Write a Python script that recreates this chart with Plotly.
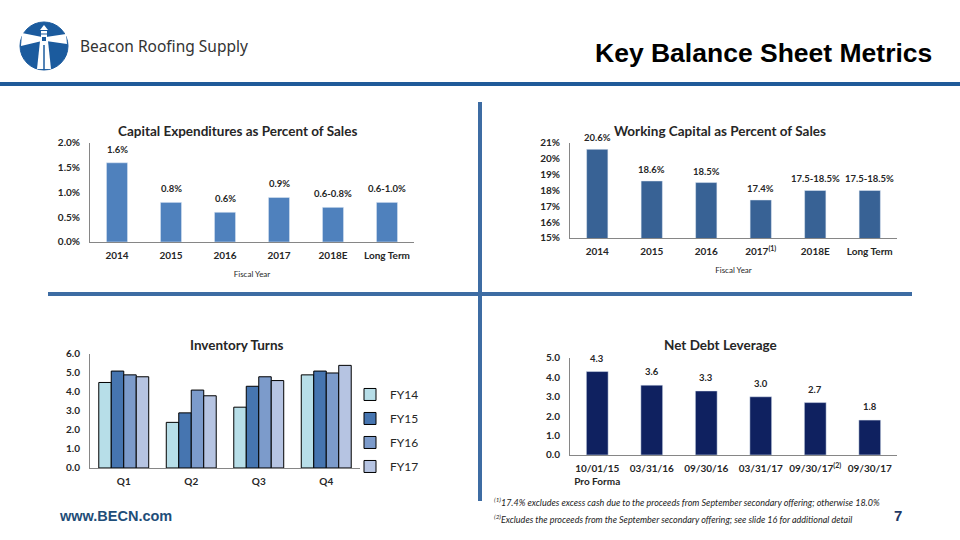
import plotly.graph_objects as go

W, H = 960, 540
# the capture squeezes the page slightly in height; positions below are the
# reference's pixel positions, mapped so they land there after capture
Y0, SY = 6.0, 0.976


def px(x):
    return x / W


def py(y):
    return 1 - ((y - Y0) / SY) / H


# ---------------- data ----------------
capex_cats = ["2014", "2015", "2016", "2017", "2018E", "Long Term"]
capex_vals = [1.6, 0.8, 0.6, 0.9, 0.7, 0.8]
capex_labels = ["1.6%", "0.8%", "0.6%", "0.9%", "0.6-0.8%", "0.6-1.0%"]

wc_cats = ["2014", "2015", "2016", "2017<sup>(1)</sup>", "2018E", "Long Term"]
wc_vals = [20.6, 18.6, 18.5, 17.4, 18.0, 18.0]
wc_labels = ["20.6%", "18.6%", "18.5%", "17.4%", "17.5-18.5%", "17.5-18.5%"]

inv_quarters = ["Q1", "Q2", "Q3", "Q4"]
inv_fy14 = [4.5, 2.4, 3.2, 4.9]
inv_fy15 = [5.1, 2.9, 4.3, 5.1]
inv_fy16 = [4.9, 4.1, 4.8, 5.0]
inv_fy17 = [4.8, 3.8, 4.6, 5.4]
inv_series = ["FY14", "FY15", "FY16", "FY17"]

lev_cats = ["10/01/15<br>Pro Forma", "03/31/16", "09/30/16", "03/31/17",
            "09/30/17<sup>(2)</sup>", "09/30/17"]
lev_vals = [4.3, 3.6, 3.3, 3.0, 2.7, 1.8]
lev_labels = ["4.3", "3.6", "3.3", "3.0", "2.7", "1.8"]

# ---------------- style ----------------
FONT = "Lato"
TXT = "#262626"
AXLINE = "#868686"
C_CAPEX = "#4F81BD"
C_WC = "#386295"
C_INV = ["#B7DEE8", "#4675B0", "#7C9BCB", "#B6C4E2"]
C_LEV = "#0F2160"
DIV = "#3D6CA3"

fig = go.Figure()

fig.add_trace(go.Bar(x=capex_cats, y=capex_vals, marker_color=C_CAPEX, width=0.39,
                     xaxis="x", yaxis="y", showlegend=False, hoverinfo="skip"))
fig.add_trace(go.Bar(x=wc_cats, y=wc_vals, marker_color=C_WC, width=0.39,
                     xaxis="x2", yaxis="y2", showlegend=False, hoverinfo="skip"))
for name, vals, col in zip(inv_series, [inv_fy14, inv_fy15, inv_fy16, inv_fy17], C_INV):
    fig.add_trace(go.Bar(x=inv_quarters, y=vals, name=name, marker_color=col,
                         marker_line=dict(color="#000000", width=1),
                         legendgroup=name,
                         xaxis="x3", yaxis="y3", hoverinfo="skip"))
fig.add_trace(go.Bar(x=lev_cats, y=lev_vals, marker_color=C_LEV, width=0.40,
                     xaxis="x4", yaxis="y4", showlegend=False, hoverinfo="skip"))

tickfont = dict(family=FONT, size=10, color=TXT, weight=700)


def xax(domain, anchor, cats):
    return dict(domain=domain, anchor=anchor, type="category",
                categoryorder="array", categoryarray=cats,
                range=[-0.5, len(cats) - 0.5], autorange=False,
                showgrid=False, showline=True, linecolor=AXLINE, linewidth=1,
                ticks="", tickfont=tickfont, fixedrange=True, zeroline=False,
                ticklabelstandoff=4)


def yax(domain, anchor, rng, dtick, fmt, suffix=""):
    return dict(domain=domain, anchor=anchor, range=rng, autorange=False,
                dtick=dtick, tickformat=fmt, ticksuffix=suffix, showgrid=False,
                showline=True, linecolor=AXLINE, linewidth=1, ticks="",
                tickfont=tickfont, fixedrange=True, zeroline=False,
                ticklabelstandoff=7)


axis_title_font = dict(family=FONT, size=8, color=TXT)

xa1 = xax([px(90), px(414)], "y", capex_cats)
xa1["title"] = dict(text="Fiscal Year", font=axis_title_font, standoff=11)
xa2 = xax([px(570), px(897)], "y2", wc_cats)
xa2["title"] = dict(text="Fiscal Year", font=axis_title_font, standoff=11)

fig.update_layout(
    width=W, height=H,
    margin=dict(l=0, r=0, t=0, b=0),
    paper_bgcolor="white", plot_bgcolor="white",
    font=dict(family=FONT, color=TXT),
    barmode="group",
    bargap=0.26, bargroupgap=0,
    xaxis=xa1,
    yaxis=yax([py(241), py(142)], "x", [0, 2], 0.5, ".1f", "%"),
    xaxis2=xa2,
    yaxis2=yax([py(237), py(142)], "x2", [15, 21], 1, "d", "%"),
    xaxis3=xax([px(90), px(360)], "y3", inv_quarters),
    yaxis3=yax([py(467), py(353)], "x3", [0, 6], 1, ".1f"),
    xaxis4=xax([px(570), px(897)], "y4", lev_cats),
    yaxis4=yax([py(454), py(357)], "x4", [0, 5], 1, ".1f"),
    legend=dict(x=px(350), y=py(379), xanchor="left", yanchor="top",
                font=dict(family=FONT, size=12, color=TXT),
                bgcolor="rgba(0,0,0,0)", traceorder="grouped",
                tracegroupgap=5),
    showlegend=True,
)

annotations = []
label_font = dict(family=FONT, size=9.5, color=TXT, weight=700)

# category axes: annotations placed by category index
for i, (v, t) in enumerate(zip(capex_vals, capex_labels)):
    annotations.append(dict(x=i, y=v, xref="x", yref="y", text=t, showarrow=False,
                            yanchor="bottom", yshift=6, font=label_font))
for i, (v, t) in enumerate(zip(wc_vals, wc_labels)):
    annotations.append(dict(x=i, y=v, xref="x2", yref="y2", text=t, showarrow=False,
                            yanchor="bottom", yshift=4, font=label_font))
for i, (v, t) in enumerate(zip(lev_vals, lev_labels)):
    annotations.append(dict(x=i, y=v, xref="x4", yref="y4", text=t, showarrow=False,
                            yanchor="bottom", yshift=6, font=label_font))

title_font = dict(family=FONT, size=13.5, color=TXT, weight=700)
for text, x, y in [("Capital Expenditures as Percent of Sales", 237, 130),
                   ("Working Capital as Percent of Sales", 720, 130),
                   ("Inventory Turns", 237, 344),
                   ("Net Debt Leverage", 720, 344)]:
    annotations.append(dict(x=px(x), y=py(y), xref="paper", yref="paper", text=text,
                            showarrow=False, xanchor="center", yanchor="middle",
                            font=title_font))

# header texts
annotations.append(dict(x=px(934), y=py(52), xref="paper", yref="paper",
                        text="Key Balance Sheet Metrics", showarrow=False,
                        xanchor="right", yanchor="middle",
                        font=dict(family="Liberation Sans", size=26.5, color="#000000", weight=700)))
annotations.append(dict(x=px(78), y=py(45), xref="paper", yref="paper",
                        text="Beacon Roofing Supply", showarrow=False,
                        xanchor="left", yanchor="middle",
                        font=dict(family="Noto Sans", size=15.5, color="#333333")))
annotations.append(dict(x=px(57), y=py(515), xref="paper", yref="paper",
                        text="www.BECN.com", showarrow=False,
                        xanchor="left", yanchor="middle",
                        font=dict(family="Liberation Sans", size=14.5, color="#1F4E79", weight=700)))
annotations.append(dict(x=px(898), y=py(515), xref="paper", yref="paper",
                        text="7", showarrow=False,
                        xanchor="center", yanchor="middle",
                        font=dict(family="Liberation Sans", size=15, color="#1F3864", weight=700)))
foot_font = dict(family=FONT, size=9, color="#222222")
annotations.append(dict(x=px(492), y=py(501), xref="paper", yref="paper",
                        text="<i><sup>(1)</sup>17.4% excludes excess cash due to the proceeds from September secondary offering; otherwise 18.0%</i>",
                        showarrow=False, xanchor="left", yanchor="middle", font=foot_font))
annotations.append(dict(x=px(492), y=py(518), xref="paper", yref="paper",
                        text="<i><sup>(2)</sup>Excludes the proceeds from the September secondary offering; see slide 16 for additional detail</i>",
                        showarrow=False, xanchor="left", yanchor="middle", font=foot_font))

fig.update_layout(annotations=annotations)

shapes = []
# header line
shapes.append(dict(type="line", xref="paper", yref="paper", x0=0, x1=1,
                   y0=py(83), y1=py(83), line=dict(color="#1F5A99", width=4)))
# dividers
shapes.append(dict(type="line", xref="paper", yref="paper", x0=px(480), x1=px(480),
                   y0=py(101), y1=py(500), line=dict(color=DIV, width=4)))
shapes.append(dict(type="line", xref="paper", yref="paper", x0=px(48), x1=px(912),
                   y0=py(293), y1=py(293), line=dict(color=DIV, width=4)))

# logo
LOGO = "#1B5B9E"
shapes.append(dict(type="circle", xref="paper", yref="paper",
                   x0=px(20), x1=px(68), y0=py(69), y1=py(21),
                   fillcolor=LOGO, line=dict(color=LOGO, width=1)))


def path(pts):
    return "M " + " L ".join(f"{px(x)},{py(y)}" for x, y in pts) + " Z"


white = dict(fillcolor="white", line=dict(width=0))
# beams
shapes.append(dict(type="path", xref="paper", yref="paper",
                   path=path([(42, 36), (22, 32), (21, 45), (42, 40)]), **white))
shapes.append(dict(type="path", xref="paper", yref="paper",
                   path=path([(46, 36), (66, 33), (67, 43), (46, 40)]), **white))
# tower
shapes.append(dict(type="path", xref="paper", yref="paper",
                   path=path([(40, 40), (48, 40), (51, 68), (37, 68)]), **white))
shapes.append(dict(type="line", xref="paper", yref="paper", x0=px(44), x1=px(44),
                   y0=py(44), y1=py(69), line=dict(color=LOGO, width=1.5)))
# lantern
shapes.append(dict(type="path", xref="paper", yref="paper",
                   path=path([(44, 24), (48, 29), (40, 29)]), **white))
shapes.append(dict(type="rect", xref="paper", yref="paper",
                   x0=px(41), x1=px(47), y0=py(36), y1=py(30), **white))
shapes.append(dict(type="line", xref="paper", yref="paper", x0=px(41), x1=px(47),
                   y0=py(33), y1=py(33), line=dict(color=LOGO, width=1)))

fig.update_layout(shapes=shapes)

fig.write_html("out.html",
               config={"displayModeBar": False, "staticPlot": True},
               post_script="document.body.style.margin='0px';document.body.style.overflow='hidden';")
